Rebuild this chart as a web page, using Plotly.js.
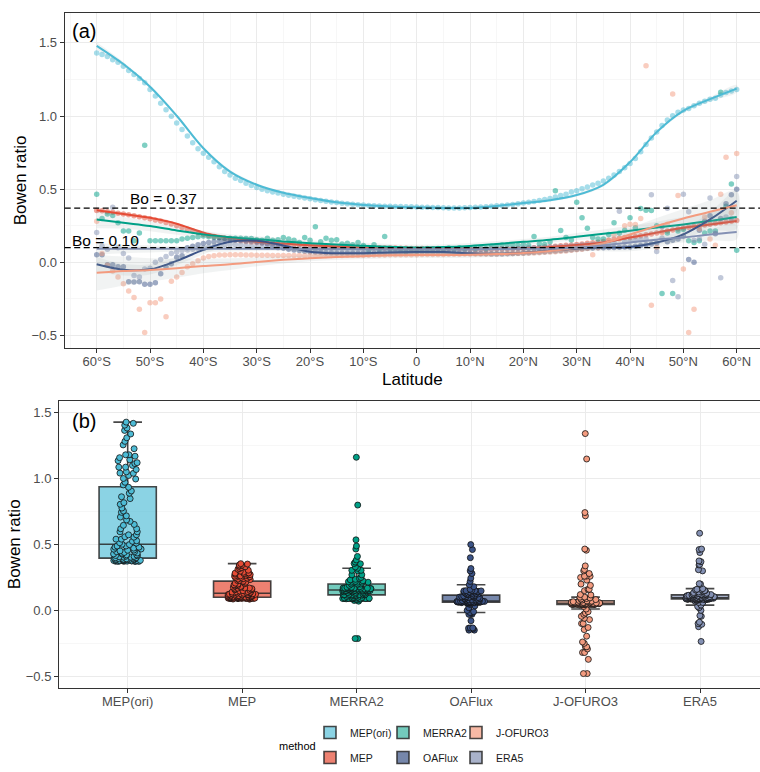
<!DOCTYPE html>
<html><head><meta charset="utf-8">
<script src="https://cdn.plot.ly/plotly-3.0.1.min.js"></script>
<style>html,body{margin:0;padding:0;overflow:hidden;background:#fff}#chart{width:760px;height:772px}</style>
</head><body><div id="chart"></div>
<script>
// ---------- data ----------
const METHODS = ['MEP(ori)','MEP','MERRA2','OAFlux','J-OFURO3','ERA5'];
const COLORS  = ['#4DBBD5','#E64B35','#00A087','#3C5488','#F39B7F','#8491B4'];
const BOX_FILL = ['rgba(77,187,213,0.65)','rgba(230,75,53,0.7)','rgba(0,160,135,0.55)','rgba(60,84,136,0.7)','rgba(243,155,127,0.7)','rgba(132,145,180,0.7)'];

const LAT = [-60,-59,-58,-57,-56,-55,-54,-53,-52,-51,-50,-49,-48,-47,-46,-45,-44,-43,-42,-41,
  -40,-39,-38,-37,-36,-35,-34,-33,-32,-31,-30,-29,-28,-27,-26,-25,-24,-23,-22,-21,
  -20,-19,-18,-17,-16,-15,-14,-13,-12,-11,-10,-9,-8,-7,-6,-5,-4,-3,-2,-1,
  0,1,2,3,4,5,6,7,8,9,10,11,12,13,14,15,16,17,18,19,20,21,22,23,24,25,26,27,28,29,
  30,31,32,33,34,35,36,37,38,39,40,41,42,43,44,45,46,47,48,49,50,51,52,53,54,55,56,57,58,59,60];

const MEP_ORI = [
  1.430,1.421,1.407,1.385,1.367,1.340,1.311,1.284,1.257,1.228,
  1.182,1.137,1.088,1.043,0.998,0.953,0.907,0.863,0.818,0.777,
  0.745,0.718,0.687,0.653,0.620,0.597,0.574,0.559,0.541,0.525,
  0.511,0.500,0.489,0.480,0.473,0.465,0.458,0.452,0.446,0.440,
  0.434,0.428,0.422,0.417,0.412,0.408,0.404,0.400,0.397,0.394,
  0.391,0.389,0.387,0.385,0.384,0.383,0.382,0.381,0.380,0.379,
  0.378,0.377,0.376,0.375,0.374,0.373,0.372,0.372,0.372,0.373,
  0.374,0.376,0.378,0.380,0.383,0.386,0.389,0.392,0.396,0.400,
  0.405,0.410,0.416,0.422,0.429,0.436,0.446,0.457,0.466,0.480,
  0.489,0.502,0.514,0.529,0.541,0.556,0.574,0.597,0.620,0.646,
  0.676,0.709,0.755,0.806,0.849,0.890,0.935,0.973,1.002,1.025,
  1.041,1.052,1.070,1.088,1.101,1.115,1.122,1.144,1.160,1.171,1.182];

const MEP = [
  .355,.352,.345,.342,.336,.331,.325,.318,.312,.305,
  .298,.290,.283,.272,.262,.250,.238,.226,.214,.203,
  .192,.184,.176,.169,.163,.157,.152,.147,.143,.139,
  .136,.133,.130,.128,.126,.124,.122,.120,.118,.117,
  .115,.113,.112,.110,.108,.107,.106,.105,.104,.103,
  .102,.101,.100,.099,.098,.098,.097,.096,.096,.095,
  .095,.094,.094,.093,.093,.092,.092,.092,.091,.091,
  .090,.086,.090,.085,.091,.091,.092,.092,.093,.094,
  .095,.097,.099,.101,.104,.107,.110,.113,.116,.119,
  .122,.126,.130,.134,.138,.142,.150,.158,.165,.170,
  .170,.176,.182,.188,.194,.200,.207,.214,.221,.228,
  .234,.240,.245,.250,.255,.260,.265,.270,.275,.280,.285];

const MERRA2 = [
  .466,.300,.330,.320,.270,.214,.214,.147,.200,.800,
  .147,.147,.147,.147,.147,.147,.160,.165,.170,.175,
  .180,.175,.170,.168,.165,.165,.165,.165,.163,.162,
  .155,.150,.164,.150,.155,.169,.160,.150,.135,.169,
  .150,.243,.140,.164,.150,.155,.125,.130,.120,.135,
  .115,.085,.120,.088,.176,.090,.092,.085,.070,.090,
  .075,.085,.092,.088,.095,.088,.098,.090,.100,.092,
  .100,.095,.105,.095,.110,.112,.118,.120,.118,.115,
  .120,.115,.176,.125,.122,.140,.489,.218,.169,.152,
  .410,.304,.232,.170,.160,.160,.190,.270,.200,.220,
  .304,.236,.367,.356,.354,.250,-.214,.200,-.214,.214,
  .225,.147,.135,.147,.200,.214,.214,1.163,.383,.536,.083];

const OAFLUX = [
  .052,.052,-.016,-.016,-.030,-.030,-.133,-.135,-.133,-.150,
  -.150,-.140,-.079,-.030,-.010,.034,.045,.100,.110,.120,
  .128,.135,.140,.145,.148,.150,.152,.150,.148,.145,
  .140,.132,.125,.115,.105,.098,.090,.085,.080,.075,
  .072,.070,.068,.066,.065,.064,.064,.063,.063,.063,
  .063,.064,.064,.065,.066,.067,.068,.068,.069,.070,
  .070,.070,.070,.069,.068,.067,.066,.065,.064,.063,
  .062,.061,.060,.059,.058,.058,.058,.059,.060,.062,
  .064,.066,.068,.070,.072,.075,.078,.080,.083,.086,
  .090,.093,.096,.098,.100,.100,.101,.102,.103,.104,
  .105,.110,.115,.120,.125,.130,.245,.140,.150,.160,
  .180,.020,.000,.220,.280,.318,.195,.300,.400,.462,.500];

const JOFURO3 = [
  .280,.060,-.020,-.060,-.100,-.146,-.196,-.240,-.320,-.480,
  -.277,-.277,-.250,-.372,-.130,-.100,-.070,-.030,-.010,.010,
  .030,.040,.045,.050,.050,.052,.052,.052,.050,.050,
  .048,.048,.048,.047,.047,.047,.046,.046,.046,.045,
  .045,.045,.046,.046,.046,.047,.047,.048,.048,.048,
  .049,.049,.050,.050,.050,.051,.051,.051,.052,.052,
  .052,.053,.053,.053,.054,.054,.055,.055,.055,.056,
  .056,.056,.057,.057,.058,.058,.059,.060,.060,.061,
  .062,.063,.064,.066,.068,.070,.072,.075,.078,.082,
  .086,.090,.095,.052,.100,.120,.150,.190,.160,.250,
  .260,.259,.300,1.343,-.293,.101,.200,.260,1.150,.457,
  -.045,-.480,-.320,.230,.310,.160,.117,.466,.718,.338,.743];

const ERA5 = [
  .203,.110,.090,.376,.100,.060,.030,-.090,-.100,-.045,
  -.040,.000,.020,.040,.060,.070,.080,.085,.090,.095,
  .100,.105,.110,.115,.118,.120,.120,.118,.115,.112,
  .110,.108,.105,.103,.100,.098,.096,.095,.094,.093,
  .092,.091,.090,.090,.089,.089,.088,.088,.087,.087,
  .086,.086,.086,.085,.085,.085,.085,.085,.085,.085,
  .085,.085,.085,.085,.086,.086,.086,.087,.087,.088,
  .088,.089,.090,.090,.091,.092,.093,.094,.095,.096,
  .097,.098,.099,.100,.102,.104,.106,.108,.110,.112,
  .115,.118,.120,.122,.125,.128,.130,.135,.349,.140,
  .145,.150,.155,.160,.462,.074,.165,.370,-.124,-.236,
  .466,.345,.150,.160,.124,.439,.200,-.106,.309,.300,.586];

// smoothed (loess) curves, every 5 degrees
const LAT5 = [-60,-55,-50,-45,-40,-35,-30,-25,-20,-15,-10,-5,0,5,10,15,20,25,30,35,40,45,50,55,60];
const MEP_ORI_FIT = [1.480,1.355,1.200,1.002,0.780,0.620,0.530,0.475,0.440,0.410,0.392,0.382,0.376,0.372,0.372,0.385,0.405,0.425,0.460,0.530,0.685,0.890,1.035,1.115,1.187];
const MEP_FIT     = [.356,.330,.304,.264,.203,.169,.142,.128,.117,.108,.101,.098,.095,.093,.092,.092,.095,.105,.118,.135,.169,.203,.236,.259,.282];
const MERRA2_FIT  = [.293,.270,.248,.218,.191,.172,.158,.143,.131,.121,.113,.106,.101,.104,.112,.125,.140,.155,.175,.195,.215,.238,.259,.283,.309];
const OAFLUX_FIT  = [-.013,-.050,-.048,.010,.085,.140,.147,.115,.072,.062,.062,.067,.070,.070,.062,.058,.066,.080,.095,.101,.105,.135,.191,.293,.421];
const JOFURO3_FIT = [-.072,-.060,-.052,-.040,-.025,-.013,.003,.017,.028,.036,.042,.048,.050,.050,.052,.056,.063,.078,.100,.130,.190,.248,.300,.345,.390];
const ERA5_FIT    = [.092,.092,.092,.092,.092,.092,.092,.092,.091,.091,.090,.090,.090,.090,.090,.091,.092,.095,.100,.115,.135,.155,.170,.190,.207];
// half-width of the confidence band
const MEP_ORI_CI = [.025,.015,.012,.012,.012,.012,.010,.010,.010,.010,.010,.010,.010,.010,.010,.010,.010,.010,.010,.012,.012,.012,.012,.015,.025];
const MEP_CI     = [.015,.010,.008,.008,.008,.008,.008,.008,.008,.008,.008,.008,.008,.008,.008,.008,.008,.008,.008,.008,.008,.008,.010,.012,.015];
const MERRA2_CI  = [.060,.040,.035,.030,.025,.020,.020,.020,.020,.020,.020,.020,.020,.020,.020,.020,.020,.020,.025,.030,.035,.040,.050,.060,.080];
const OAFLUX_CI  = [.050,.040,.035,.030,.030,.025,.025,.020,.020,.020,.020,.020,.020,.020,.020,.020,.020,.020,.020,.025,.030,.035,.040,.050,.070];
const JOFURO3_CI = [.120,.100,.080,.065,.050,.040,.030,.025,.020,.020,.020,.020,.020,.020,.020,.020,.020,.025,.030,.035,.045,.055,.065,.080,.100];
const ERA5_CI    = [.040,.030,.025,.020,.020,.018,.015,.015,.015,.015,.015,.015,.015,.015,.015,.015,.015,.015,.018,.020,.025,.030,.035,.040,.050];

const LAT_TICKS = [-60,-50,-40,-30,-20,-10,0,10,20,30,40,50,60];
const LAT_LABELS = ['60°S','50°S','40°S','30°S','20°S','10°S','0','10°N','20°N','30°N','40°N','50°N','60°N'];
const BO_LINES = [0.37, 0.10];

const POINTS = [MEP_ORI, MEP, MERRA2, OAFLUX, JOFURO3, ERA5];
const FITS = [MEP_ORI_FIT, MEP_FIT, MERRA2_FIT, OAFLUX_FIT, JOFURO3_FIT, ERA5_FIT];
const CIS = [MEP_ORI_CI, MEP_CI, MERRA2_CI, OAFLUX_CI, JOFURO3_CI, ERA5_CI];

// ---------- traces ----------
const FONT = 'Liberation Sans, Arial, Helvetica, sans-serif';
const traces = [];
POINTS.forEach((p, i) => {
  traces.push({type:'scatter', mode:'markers', x:LAT, y:p, xaxis:'x', yaxis:'y',
    marker:{color:COLORS[i], size:5.5, opacity:0.5}, showlegend:false, hoverinfo:'skip'});
});
FITS.forEach((f, i) => {
  const up = f.map((v, k) => v + CIS[i][k]);
  const lo = f.map((v, k) => v - CIS[i][k]);
  traces.push({type:'scatter', mode:'lines', x:LAT5.concat(LAT5.slice().reverse()),
    y:up.concat(lo.slice().reverse()), xaxis:'x', yaxis:'y', fill:'toself',
    fillcolor:'rgba(150,160,160,0.13)', line:{width:0, shape:'spline'}, showlegend:false, hoverinfo:'skip'});
  traces.push({type:'scatter', mode:'lines', x:LAT5, y:f, xaxis:'x', yaxis:'y',
    line:{color:COLORS[i], width:2, shape:'spline', smoothing:1}, showlegend:false, hoverinfo:'skip'});
});
// legend columns (ggplot fills the 2-row key column by column)
const LEGEND_OF = ['legend','legend','legend2','legend2','legend3','legend3'];
POINTS.forEach((p, i) => {
  traces.push({type:'box', name:METHODS[i], y:p, xaxis:'x2', yaxis:'y2',
    legend:LEGEND_OF[i], legendgroup:METHODS[i], width:0.5, whiskerwidth:0.5,
    boxpoints:'all', jitter:0.5, pointpos:0,
    fillcolor:BOX_FILL[i], line:{color:'rgba(40,40,40,0.85)', width:1.6},
    marker:{color:COLORS[i], size:6, line:{color:'#111', width:0.8}},
    hoverinfo:'skip'});
});

// ---------- layout ----------
// the reference figure is cropped on its right side: both panels run past the 760 px edge
const W = 760, H = 772;
const px = v => v / W, py = v => 1 - v / H;
const gridMajor = '#EBEBEB', gridMinor = '#F3F3F3';
const axBase = {showline:true, linecolor:'#333333', linewidth:1,
  ticks:'outside', ticklen:4, tickcolor:'#333333', tickwidth:1,
  tickfont:{family:FONT, size:13, color:'#4D4D4D'}, gridcolor:gridMajor, gridwidth:1, zeroline:false};

const legBase = {orientation:'v', xanchor:'left', yanchor:'middle', bgcolor:'rgba(0,0,0,0)',
  font:{family:FONT, size:10.5, color:'#1A1A1A'}, itemwidth:30, tracegroupgap:6,
  traceorder:'grouped', itemclick:false, itemdoubleclick:false, y:py(753.2)};

const layout = {
  width:W, height:H, margin:{l:0, r:0, t:0, b:0}, paper_bgcolor:'#fff', plot_bgcolor:'#fff',
  font:{family:FONT, color:'#000'}, showlegend:true, boxmode:'overlay',
  xaxis: Object.assign({}, axBase, {domain:[px(64.7), 1], range:[-66, 60 + (760 - 736.7) / 5.333], anchor:'y',
    mirror:true, ticklabelstandoff:-2,
    tickmode:'array', tickvals:LAT_TICKS, ticktext:LAT_LABELS,
    minor:{tickmode:'linear', tick0:-65, dtick:10, showgrid:true, gridcolor:gridMinor, gridwidth:0.7, ticks:''},
    title:{text:'Latitude', font:{family:FONT, size:17, color:'#000'}, standoff:4}}),
  yaxis: Object.assign({}, axBase, {domain:[py(351.4), py(13.3)], range:[-0.584, 1.703], anchor:'x',
    mirror:false, tickmode:'linear', tick0:0, dtick:0.5, tickformat:'.1f',
    minor:{tickmode:'linear', tick0:0.25, dtick:0.5, showgrid:true, gridcolor:gridMinor, gridwidth:0.7, ticks:''},
    title:{text:'Bowen ratio', font:{family:FONT, size:17, color:'#000'}, standoff:0}}),
  xaxis2: Object.assign({}, axBase, {domain:[px(59), 1], anchor:'y2', type:'category',
    mirror:true, ticklabelstandoff:-2,
    range:[-0.6, 5 + (760 - 700) / 114.5], categoryorder:'array', categoryarray:METHODS}),
  yaxis2: Object.assign({}, axBase, {domain:[py(695), py(405)], range:[-0.588, 1.592], anchor:'x2',
    mirror:false, tickmode:'linear', tick0:0, dtick:0.5, tickformat:'.1f',
    minor:{tickmode:'linear', tick0:0.25, dtick:0.5, showgrid:true, gridcolor:gridMinor, gridwidth:0.7, ticks:''},
    title:{text:'Bowen ratio', font:{family:FONT, size:17, color:'#000'}, standoff:0}}),
  legend:  Object.assign({}, legBase, {x:px(310)}),
  legend2: Object.assign({}, legBase, {x:px(383)}),
  legend3: Object.assign({}, legBase, {x:px(456)}),
  shapes: BO_LINES.map(v => ({type:'line', xref:'x domain', yref:'y', x0:0, x1:1, y0:v, y1:v,
    line:{color:'#000', width:1.2, dash:'6px,3.5px'}, layer:'above'})),
  annotations: [
    {xref:'x domain', yref:'y domain', x:(70-64.7)/(760-64.7), y:1-(31.7-13.3)/338.1, xanchor:'left', yanchor:'middle',
      text:'(a)', showarrow:false, font:{family:FONT, size:20, color:'#000'}},
    {xref:'x2 domain', yref:'y2 domain', x:(70-59)/(760-59), y:1-(425-405)/290, xanchor:'left', yanchor:'middle',
      text:'(b)', showarrow:false, font:{family:FONT, size:20, color:'#000'}},
    {xref:'x', yref:'y', x:-47.5, y:0.434, text:'Bo = 0.37', showarrow:false,
      font:{family:FONT, size:15.5, color:'#000'}},
    {xref:'x', yref:'y', x:-58.4, y:0.152, text:'Bo = 0.10', showarrow:false,
      font:{family:FONT, size:15.5, color:'#000'}},
    {xref:'paper', yref:'paper', x:px(318), y:py(754.3), xanchor:'right', yanchor:'middle',
      text:'method', showarrow:false, font:{family:FONT, size:11, color:'#000'}}
  ]
};

Plotly.newPlot('chart', traces, layout, {staticPlot:true, displayModeBar:false});
</script>
</body></html>
